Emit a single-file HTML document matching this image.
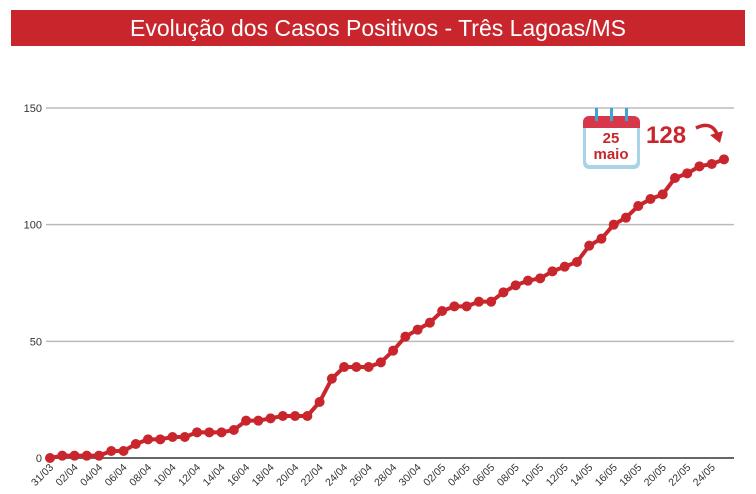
<!DOCTYPE html>
<html><head><meta charset="utf-8"><style>
body{margin:0;background:#fff;width:756px;height:494px;overflow:hidden;font-family:"Liberation Sans",sans-serif}
#hdr{position:absolute;left:11px;top:10px;width:734px;height:36px;background:#c8262c;color:#fff;font-size:23px;text-align:center;line-height:36px}
svg{position:absolute;left:0;top:0}
</style></head><body>
<div id="hdr">Evolução dos Casos Positivos - Três Lagoas/MS</div>
<svg id="c" width="756" height="494"></svg>
<script>
const dates=["31/03","01/04","02/04","03/04","04/04","05/04","06/04","07/04","08/04","09/04","10/04","11/04","12/04","13/04","14/04","15/04","16/04","17/04","18/04","19/04","20/04","21/04","22/04","23/04","24/04","25/04","26/04","27/04","28/04","29/04","30/04","01/05","02/05","03/05","04/05","05/05","06/05","07/05","08/05","09/05","10/05","11/05","12/05","13/05","14/05","15/05","16/05","17/05","18/05","19/05","20/05","21/05","22/05","23/05","24/05","25/05"];
const cases=[0,1,1,1,1,3,3,6,8,8,9,9,11,11,11,12,16,16,17,18,18,18,24,34,39,39,39,41,46,52,55,58,63,65,65,67,67,71,74,76,77,80,82,84,91,94,100,103,108,111,113,120,122,125,126,128];
const yTicks=[0,50,100,150];
const NS="http://www.w3.org/2000/svg";
const svg=document.getElementById('c');
const x0=50,x1=724,y0=458,yTop=108;
const X=i=>x0+(x1-x0)*i/(dates.length-1);
const Y=v=>y0-(y0-yTop)*v/150;
function mk(t,a,p){const e=document.createElementNS(NS,t);for(const k in a)e.setAttribute(k,a[k]);(p||svg).appendChild(e);return e;}
yTicks.forEach(v=>{
 const l=mk('line',{x1:46,x2:734,y1:Y(v),y2:Y(v),stroke:v===0?'#666':'#bbb','stroke-width':v===0?2:1.5});
 
 
 const t=mk('text',{x:42,y:Y(v)+4,'text-anchor':'end','font-size':11,fill:'#333'});t.textContent=v;
 
 
});
dates.forEach((d,i)=>{if(i%2)return;
 const t=mk('text',{transform:`translate(${X(i)+4},${y0+10}) rotate(-45)`,'text-anchor':'end','font-size':10.5,fill:'#333'});t.textContent=d;
 
 
});
const pl=mk('polyline',{points:cases.map((v,i)=>X(i)+','+Y(v)).join(' '),fill:'none',stroke:'#c8262c','stroke-width':4,'stroke-linejoin':'round'});


cases.forEach((v,i)=>{const c=mk('circle',{cx:X(i),cy:Y(v),r:5,fill:'#c8262c'});
 
 });
</script>
<svg width="756" height="494" style="pointer-events:none">
 <g>
  <rect x="583" y="116" width="57" height="53" rx="6" fill="#a9d3e6"/>
  <rect x="586" y="119" width="51" height="46" rx="4" fill="#fff"/>
  <path d="M583 128 V122 a6 6 0 0 1 6 -6 h45 a6 6 0 0 1 6 6 v6 z" fill="#d6374a"/>
  <rect x="595" y="108" width="3" height="13" fill="#3aa6d6"/>
  <rect x="610" y="108" width="3" height="13" fill="#3aa6d6"/>
  <rect x="625" y="108" width="3" height="13" fill="#3aa6d6"/>
  <text x="611" y="143" text-anchor="middle" font-size="15" font-weight="bold" fill="#c8262c">25</text>
  <text x="611" y="159" text-anchor="middle" font-size="15" font-weight="bold" fill="#c8262c">maio</text>
 </g>
 <text x="646" y="143" font-size="24" font-weight="bold" fill="#c8262c">128</text>
 <path d="M696 128 Q712 120 718 136" fill="none" stroke="#c8262c" stroke-width="3.5"/>
 <path d="M710 135 L720 143 L723 131 z" fill="#c8262c"/>
</svg>
</body></html>
